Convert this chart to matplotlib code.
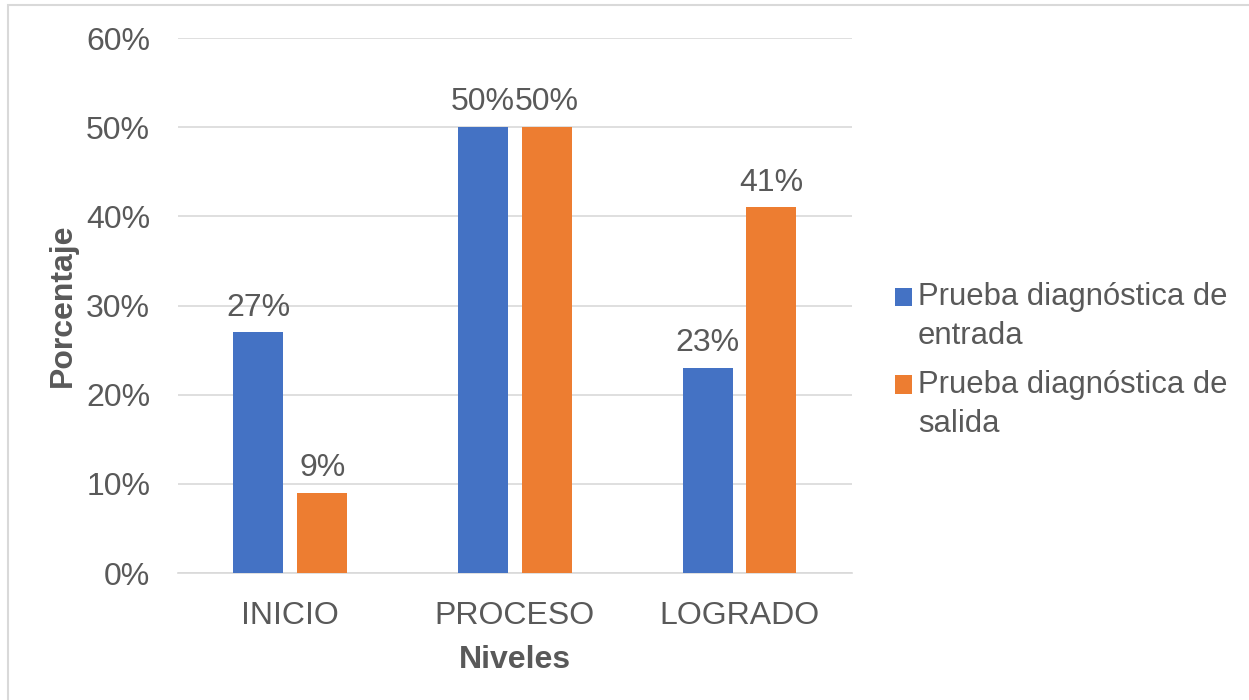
import numpy as np
import matplotlib
matplotlib.use('Agg')
import matplotlib.pyplot as plt
from matplotlib.patches import Rectangle
from matplotlib.legend_handler import HandlerPatch

plt.rcParams['font.family'] = ['Liberation Sans', 'DejaVu Sans']

categorias = ['INICIO', 'PROCESO', 'LOGRADO']
entrada = [27, 50, 23]
salida = [9, 50, 41]
series = ['Prueba diagnóstica de\nentrada', 'Prueba diagnóstica de\nsalida']
colores = ['#4472C4', '#ED7D31']
gris = '#595959'
fs = 23


# square aligned with the first line of the two-line label
class HandlerArriba(HandlerPatch):
    def create_artists(self, legend, orig_handle, xdescent, ydescent,
                       width, height, fontsize, trans):
        p = Rectangle((-xdescent, -ydescent + 14.5), width, height,
                      facecolor=orig_handle.get_facecolor(), edgecolor='none',
                      transform=trans)
        return [p]


fig = plt.figure(figsize=(12.49, 7), dpi=100)
ax = fig.add_axes([0.1425, 0.1814, 0.5395, 0.7643])

x = np.arange(len(categorias))
w = 0.2225
off = 0.142
b1 = ax.bar(x - off, entrada, w, color=colores[0], label=series[0], zorder=3)
b2 = ax.bar(x + off, salida, w, color=colores[1], label=series[1], zorder=3)

for bars, vals in [(b1, entrada), (b2, salida)]:
    for r, v in zip(bars, vals):
        ax.annotate(f'{v}%', (r.get_x() + r.get_width() / 2, v),
                    xytext=(0, 7), textcoords='offset points',
                    ha='center', va='bottom', fontsize=fs, color=gris)

ax.set_xlim(-0.5, 2.5)
ax.set_ylim(0, 60)
ax.set_yticks(range(0, 61, 10))
ax.set_yticklabels([f'{t}%' for t in range(0, 61, 10)])
ax.set_xticks(x)
ax.set_xticklabels(categorias)
ax.tick_params(length=0, labelsize=fs, colors=gris)
ax.tick_params(axis='y', pad=20)
ax.tick_params(axis='x', pad=20)
ax.grid(axis='y', color='#d9d9d9', linewidth=1.2, zorder=0)
for s in ['top', 'right', 'left']:
    ax.spines[s].set_visible(False)
ax.spines['bottom'].set_color('#d9d9d9')
ax.spines['bottom'].set_linewidth(1.2)

ax.set_xlabel('Niveles', fontsize=fs, fontweight='bold', color=gris, labelpad=10)
ax.set_ylabel('Porcentaje', fontsize=fs, fontweight='bold', color=gris, labelpad=6)

leg = fig.legend([b1.patches[0], b2.patches[0]], series,
                 loc='center left', bbox_to_anchor=(0.694, 0.485), frameon=False,
                 fontsize=22.3, labelcolor=gris, handlelength=0.55, handleheight=0.55,
                 handletextpad=0.2, labelspacing=0.61,
                 handler_map={Rectangle: HandlerArriba()})
for t in leg.get_texts():
    t.set_linespacing(1.38)

fig.patches.append(Rectangle((8 / 1249, -0.05), 1.1, 1 - 5 / 700 + 0.05,
                             transform=fig.transFigure, fill=False,
                             edgecolor='#d9d9d9', linewidth=1.5))

fig.savefig('out.png', dpi=100)
